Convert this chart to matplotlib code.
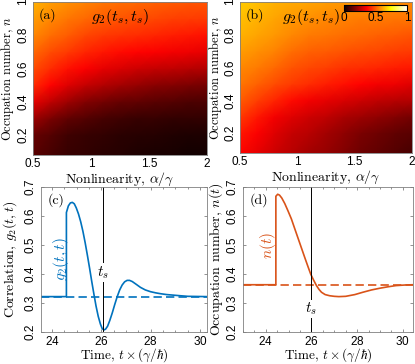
import numpy as np
import matplotlib
matplotlib.use("Agg")
import matplotlib.pyplot as plt
from matplotlib.ticker import MultipleLocator

plt.rcParams['mathtext.fontset'] = 'cm'
plt.rcParams['font.family'] = 'serif'
plt.rcParams['font.serif'] = ['cmr10']
plt.rcParams['axes.formatter.use_mathtext'] = True
TICKFONT = 'Liberation Sans'

# ---- heatmap data: g2(ts,ts) on (alpha, n) grid, rows from low n to high n ----
alpha = [0.5, 0.65, 0.8, 0.95, 1.1, 1.25, 1.4, 1.55, 1.7, 1.85, 2.0]
occ = [0.08, 0.2, 0.3, 0.4, 0.5, 0.6, 0.7, 0.8, 0.9, 1.0]

g2_a = [
    [0.12, 0.09, 0.07, 0.06, 0.05, 0.04, 0.03, 0.025, 0.02, 0.015, 0.015],
    [0.14, 0.11, 0.08, 0.07, 0.06, 0.05, 0.045, 0.04, 0.035, 0.03, 0.03],
    [0.22, 0.17, 0.13, 0.11, 0.09, 0.08, 0.07, 0.07, 0.06, 0.06, 0.06],
    [0.33, 0.27, 0.22, 0.18, 0.16, 0.14, 0.13, 0.12, 0.11, 0.10, 0.10],
    [0.43, 0.37, 0.32, 0.28, 0.25, 0.23, 0.21, 0.19, 0.18, 0.17, 0.16],
    [0.48, 0.43, 0.39, 0.36, 0.33, 0.31, 0.29, 0.28, 0.27, 0.26, 0.25],
    [0.52, 0.48, 0.45, 0.42, 0.40, 0.38, 0.37, 0.36, 0.35, 0.34, 0.33],
    [0.57, 0.53, 0.50, 0.47, 0.45, 0.44, 0.43, 0.42, 0.41, 0.40, 0.39],
    [0.60, 0.57, 0.54, 0.52, 0.50, 0.49, 0.48, 0.47, 0.46, 0.455, 0.45],
    [0.63, 0.60, 0.58, 0.56, 0.54, 0.53, 0.52, 0.51, 0.50, 0.495, 0.49],
]

g2_b = [
    [0.37, 0.33, 0.29, 0.26, 0.23, 0.21, 0.18, 0.15, 0.13, 0.11, 0.09],
    [0.40, 0.36, 0.32, 0.28, 0.26, 0.23, 0.20, 0.17, 0.15, 0.13, 0.12],
    [0.45, 0.40, 0.35, 0.32, 0.29, 0.27, 0.24, 0.22, 0.20, 0.18, 0.16],
    [0.50, 0.46, 0.42, 0.38, 0.35, 0.33, 0.31, 0.29, 0.27, 0.26, 0.25],
    [0.54, 0.51, 0.48, 0.45, 0.43, 0.41, 0.39, 0.37, 0.35, 0.34, 0.32],
    [0.57, 0.55, 0.52, 0.49, 0.47, 0.46, 0.44, 0.43, 0.42, 0.41, 0.40],
    [0.60, 0.58, 0.56, 0.53, 0.51, 0.50, 0.49, 0.48, 0.47, 0.46, 0.45],
    [0.63, 0.61, 0.59, 0.57, 0.55, 0.54, 0.53, 0.52, 0.51, 0.50, 0.49],
    [0.65, 0.63, 0.61, 0.59, 0.58, 0.57, 0.56, 0.55, 0.55, 0.54, 0.54],
    [0.67, 0.65, 0.63, 0.62, 0.61, 0.60, 0.59, 0.59, 0.58, 0.575, 0.57],
]

# ---- time traces ----
t_c = [23.55, 24.58, 24.58, 24.66, 24.74, 24.82, 24.9, 24.98, 25.07, 25.16,
       25.25, 25.34, 25.43, 25.52, 25.6, 25.69, 25.78, 25.87, 25.96, 26.03,
       26.1, 26.17, 26.25, 26.34, 26.44, 26.54, 26.64, 26.74, 26.84, 26.94,
       27.04, 27.14, 27.25, 27.4, 27.58, 27.78, 27.99, 28.2, 28.4, 28.65,
       28.93, 29.2, 29.5, 30.28]
g2_t = [0.322, 0.322, 0.612, 0.635, 0.645, 0.647, 0.642, 0.628, 0.607, 0.58,
        0.547, 0.508, 0.465, 0.42, 0.378, 0.333, 0.29, 0.254, 0.227, 0.212,
        0.207, 0.21, 0.22, 0.24, 0.266, 0.295, 0.322, 0.345, 0.362, 0.373,
        0.378, 0.378, 0.374, 0.365, 0.354, 0.345, 0.339, 0.335, 0.332, 0.329,
        0.327, 0.325, 0.323, 0.322]
g2_ss = 0.322
ts_c = 26.07

t_d = [23.0, 24.44, 24.44, 24.52, 24.6, 24.7, 24.83, 24.97, 25.12, 25.26,
       25.41, 25.56, 25.71, 25.85, 25.97, 26.1, 26.22, 26.33, 26.44, 26.6,
       26.8, 27.0, 27.2, 27.5, 27.9, 28.25, 28.63, 29.0, 29.36, 29.7,
       30.09, 30.45]
n_t = [0.363, 0.363, 0.668, 0.675, 0.672, 0.662, 0.643, 0.618, 0.59, 0.558,
       0.524, 0.49, 0.456, 0.425, 0.399, 0.378, 0.36, 0.347, 0.337, 0.329,
       0.325, 0.323, 0.322, 0.323, 0.329, 0.337, 0.345, 0.351, 0.356, 0.36,
       0.362, 0.363]
n_ss = 0.363
ts_d = 25.97

BLUE = '#0072BD'
ORANGE = '#D95319'
W, H = 415, 364

fig = plt.figure(figsize=(4.15, 3.64), dpi=100)


def box(l, t, r, b):
    return [l / W, (H - b) / H, (r - l) / W, (b - t) / H]


def style(ax):
    for s in ax.spines.values():
        s.set_color('0.5')
        s.set_linewidth(0.6)
    ax.tick_params(labelfontfamily=TICKFONT, labelsize=8.5)
    plt.setp(ax.get_yticklabels(), rotation=90, va='center')


def heatmap(rect, data, tag, xl_y, yl_x):
    ax = fig.add_axes(box(*rect))
    im = ax.pcolormesh(alpha, occ, np.array(data), cmap='hot', vmin=0, vmax=1,
                       shading='gouraud')
    ax.set_xlim(0.5, 2)
    ax.set_ylim(0.08, 1)
    ax.set_xticks([0.5, 1, 1.5, 2])
    ax.set_xticklabels(['0.5', '1', '1.5', '2'])
    ax.set_yticks([0.2, 0.4, 0.6, 0.8, 1])
    ax.set_yticklabels(['0.2', '0.4', '0.6', '0.8', '1'])
    ax.tick_params(length=0, pad=2.5)
    style(ax)
    ax.set_xlabel(r'Nonlinearity, $\alpha/\gamma$', fontsize=10)
    ax.set_ylabel(r'Occupation number, $n$', fontsize=9)
    ax.xaxis.set_label_coords(0.5, xl_y)
    ax.yaxis.set_label_coords(yl_x, 0.5)
    ax.text(0.03, 0.96, tag, transform=ax.transAxes, fontsize=10, va='top')
    return ax, im


ax_a, im_a = heatmap((33, 2, 207, 155), g2_a, '(a)', -0.1, -0.098)
ax_a.text(0.5, 0.965, r'$g_2(t_s,t_s)$', transform=ax_a.transAxes,
          fontsize=11.5, ha='center', va='top')
ax_b, im_b = heatmap((240, 2, 412, 153), g2_b, '(b)', -0.105, -0.095)
ax_b.text(0.415, 0.965, r'$g_2(t_s,t_s)$', transform=ax_b.transAxes,
          fontsize=11.5, ha='center', va='top')

cax = fig.add_axes(box(344, 5, 407, 10.5))
cb = fig.colorbar(im_b, cax=cax, orientation='horizontal', ticks=[0, 0.5, 1])
cb.ax.set_xticklabels(['0', '0.5', '1'])
cb.ax.tick_params(length=0, pad=1, labelsize=8.5, labelfontfamily=TICKFONT)
cb.outline.set_linewidth(0.8)


def trace(rect, t, y, yss, ts, color, xlim, tag, label, lab_xy, ts_y, ylab,
          xl_y, yl_x):
    ax = fig.add_axes(box(*rect))
    ax.plot(t, y, color=color, lw=1.2)
    ax.axhline(yss, color=color, lw=1.2, ls=(0, (5, 2.5)))
    ax.axvline(ts, color='k', lw=0.7)
    ax.text(ts, ts_y, r'$t_s$', fontsize=11, ha='center', va='center',
            bbox=dict(facecolor='white', edgecolor='none', pad=0.5))
    ax.text(lab_xy[0], lab_xy[1], label, color=color, fontsize=11,
            rotation=90, ha='center', va='center')
    ax.set_xlim(*xlim)
    ax.set_ylim(0.2, 0.7)
    ax.set_xticks([24, 26, 28, 30])
    ax.set_yticks([0.2, 0.3, 0.4, 0.5, 0.6, 0.7])
    ax.set_yticklabels(['0.2', '0.3', '0.4', '0.5', '0.6', '0.7'])
    ax.xaxis.set_minor_locator(MultipleLocator(0.5))
    ax.tick_params(which='both', direction='in', top=True, right=True,
                   length=2.5, width=0.5, color='0.4')
    ax.tick_params(which='minor', length=1.5)
    ax.tick_params(axis='x', pad=2)
    style(ax)
    ax.set_xlabel(r'Time, $t\times(\gamma/\hbar)$', fontsize=9.5)
    ax.set_ylabel(ylab, fontsize=10)
    ax.xaxis.set_label_coords(0.5, xl_y)
    ax.yaxis.set_label_coords(yl_x, 0.5)
    ax.text(0.04, 0.96, tag, transform=ax.transAxes, fontsize=10, va='top')
    return ax


trace((41, 187, 207, 332), t_c, g2_t, g2_ss, ts_c, BLUE, (23.55, 30.28), '(c)',
      r'$g_2(t,t)$', (24.35, 0.45), 0.405, r'Correlation, $g_2(t,t)$',
      -0.1, -0.133)
trace((243, 187, 413, 332), t_d, n_t, n_ss, ts_d, ORANGE, (23.0, 30.45), '(d)',
      r'$n(t)$', (24.1, 0.5), 0.28, r'Occupation number, $n(t)$',
      -0.1, -0.105)

fig.savefig('out.png', dpi=100)
